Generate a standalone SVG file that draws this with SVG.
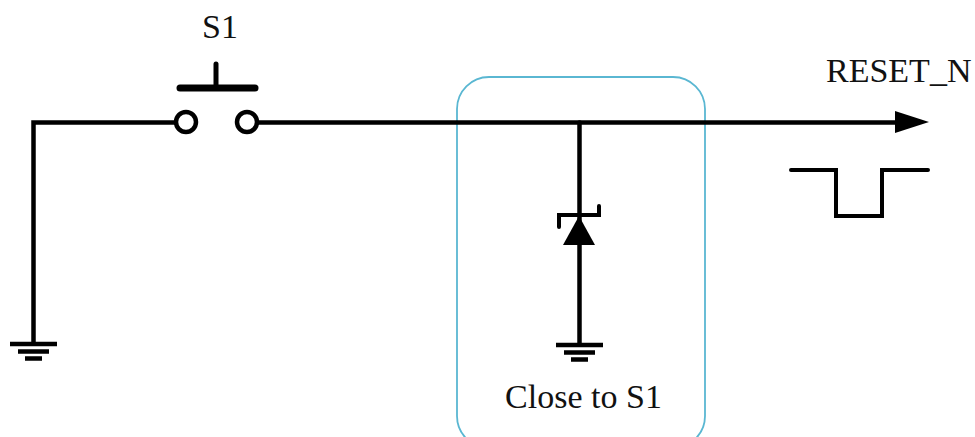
<svg xmlns="http://www.w3.org/2000/svg" width="975" height="437" viewBox="0 0 975 437">
<style>
.w{fill:none;stroke:#000;stroke-width:4.500;stroke-linecap:round;stroke-linejoin:miter}
.g{fill:none;stroke:#000;stroke-width:4.500;stroke-linecap:butt}
.t{font-family:"Liberation Serif","Times New Roman",serif;font-size:34px;fill:#111}
</style>
<defs>
<g id="gnd"><path class="g" d="M-23.500 0H23.500M-15.500 7.500H15.500M-8.500 14.500H8.500"/></g>
</defs>
<rect x="0" y="0" width="975" height="437" fill="#fff"/>
<g id="zone"><rect x="457" y="77" width="248" height="371" rx="32" ry="32" fill="none" stroke="#5ab7d2" stroke-width="1.800"/></g>
<g id="connectors">
<path class="w" d="M33.500 343V122.500H176"/>
<path class="w" d="M258 122.500H896"/>
<path class="w" d="M579.500 122.500V343"/>
</g>
<g id="s1">
<circle cx="186" cy="122" r="10" fill="#fff" stroke="#000" stroke-width="4.500"/>
<circle cx="247" cy="122" r="10" fill="#fff" stroke="#000" stroke-width="4.500"/>
<path class="w" d="M180 88H255" style="stroke-width:7"/>
<path class="w" d="M216 64V88" style="stroke-width:5"/>
<text class="t" x="220" y="38" text-anchor="middle">S1</text>
</g>
<g id="arrow"><polygon points="895,111 929,122 895,133" fill="#000"/></g>
<g id="diode">
<path class="w" d="M559 227V215H599V206" style="stroke-width:4"/>
<polygon points="579,216 595,245 563,245" fill="#000"/>
</g>
<g id="gnd1"><use href="#gnd" x="33.500" y="344"/></g>
<g id="gnd2"><use href="#gnd" x="579.500" y="345"/></g>
<g id="reset"><text class="t" x="826" y="82">RESET_N</text></g>
<g id="pulse"><path class="w" d="M791 170H836V216H882V170H928" style="stroke-width:4"/></g>
<g id="note"><text class="t" x="583.500" y="408" text-anchor="middle">Close to S1</text></g>
</svg>
